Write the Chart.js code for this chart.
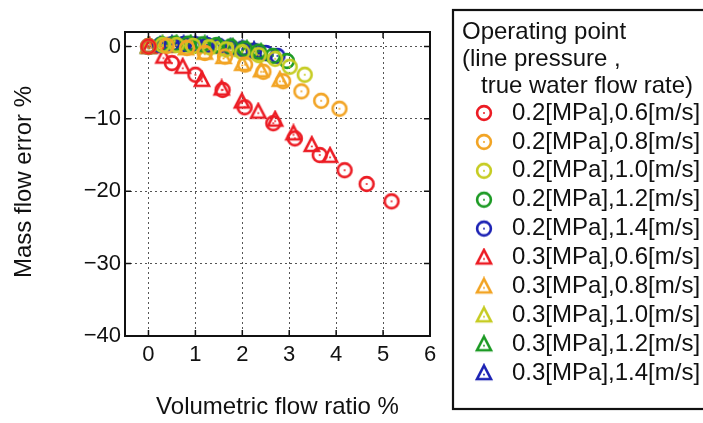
<!DOCTYPE html>
<html>
<head>
<meta charset="utf-8">
<script src="https://cdn.jsdelivr.net/npm/chart.js@4"></script>
<style>
  html, body { margin: 0; padding: 0; background: #fff; }
  #wrap { width: 703px; height: 423px; }
</style>
</head>
<body>
<div id="wrap"><canvas id="chart" width="703" height="423"></canvas></div>
<script>
// volumetric flow ratio % (x) and mass flow error % (y), per operating point
const x02_06 = [0, 0.5, 1.0, 1.58, 2.05, 2.66, 3.12, 3.65, 4.18, 4.65, 5.18];
const y02_06 = [0, -2.3, -3.9, -6.0, -8.4, -10.6, -12.7, -15.0, -17.1, -19.0, -21.4];
const x02_08 = [0, 0.39, 0.82, 1.2, 1.63, 2.06, 2.45, 2.87, 3.26, 3.68, 4.07];
const y02_08 = [0, 0.1, -0.2, -0.9, -1.4, -2.5, -3.5, -4.8, -6.2, -7.5, -8.6];
const x02_10 = [0, 0.3, 0.6, 0.95, 1.3, 1.65, 2.0, 2.35, 2.7, 3.01, 3.33];
const y02_10 = [0, 0.2, 0.2, 0.1, -0.1, -0.4, -0.8, -1.2, -1.7, -2.8, -3.9];
const x02_12 = [0, 0.28, 0.56, 0.85, 1.15, 1.45, 1.75, 2.05, 2.35, 2.65, 2.95];
const y02_12 = [0, 0.3, 0.4, 0.4, 0.3, 0.2, 0.0, -0.3, -0.7, -1.3, -2.0];
const x02_14 = [0, 0.25, 0.5, 0.75, 1.0, 1.25, 1.5, 1.75, 2.0, 2.25, 2.5, 2.75];
const y02_14 = [0, 0.2, 0.3, 0.35, 0.3, 0.2, 0.1, -0.1, -0.3, -0.6, -0.9, -1.3];
const x03_06 = [0.03, 0.32, 0.73, 1.14, 1.56, 1.99, 2.34, 2.70, 3.09, 3.48, 3.87];
const y03_06 = [0, -1.4, -2.8, -4.6, -5.8, -7.6, -9.0, -10.1, -12.0, -13.6, -15.1];
const x03_08 = [0, 0.4, 0.8, 1.2, 1.6, 2.0, 2.4, 2.8];
const y03_08 = [0, 0.05, -0.25, -0.85, -1.45, -2.4, -3.3, -4.6];
const x03_10 = [0, 0.3, 0.6, 0.9, 1.2, 1.45, 1.74, 1.99, 2.2, 2.45];
const y03_10 = [0, 0.2, 0.2, 0.1, 0.0, -0.1, -0.2, -0.45, -0.8, -1.05];
const x03_12 = [0, 0.3, 0.6, 0.9, 1.2, 1.5, 1.8, 2.1, 2.4];
const y03_12 = [0, 0.3, 0.4, 0.4, 0.3, 0.1, -0.1, -0.4, -0.8];
const x03_14 = [0, 0.25, 0.5, 0.75, 1.0, 1.25, 1.5, 1.75, 2.0, 2.25];
const y03_14 = [0, 0.2, 0.3, 0.3, 0.3, 0.2, 0.1, -0.1, -0.3, -0.5];

const labels = [
  '0.2[MPa],0.6[m/s]', '0.2[MPa],0.8[m/s]', '0.2[MPa],1.0[m/s]', '0.2[MPa],1.2[m/s]', '0.2[MPa],1.4[m/s]',
  '0.3[MPa],0.6[m/s]', '0.3[MPa],0.8[m/s]', '0.3[MPa],1.0[m/s]', '0.3[MPa],1.2[m/s]', '0.3[MPa],1.4[m/s]'
];
const xs = [x02_06, x02_08, x02_10, x02_12, x02_14, x03_06, x03_08, x03_10, x03_12, x03_14];
const ys = [y02_06, y02_08, y02_10, y02_12, y02_14, y03_06, y03_08, y03_10, y03_12, y03_14];
const colors = ['#ec1c24', '#f2a424', '#c6cc22', '#1c9a24', '#1c22b4'];
const xTicks = [0, 1, 2, 3, 4, 5, 6];
const yTicks = [0, -10, -20, -30, -40];

const FONT = '"Liberation Sans", Arial, sans-serif';

// marker images: open circle / triangle with a small dot in the middle
function makeMarker(color, shape) {
  const c = document.createElement('canvas');
  c.width = 20; c.height = 20;
  const g = c.getContext('2d');
  g.strokeStyle = color;
  g.fillStyle = color;
  g.lineWidth = 2.6;
  g.beginPath();
  if (shape === 'circle') {
    g.arc(10, 10, 6.9, 0, Math.PI * 2);
  } else {
    g.moveTo(10, 2.5); g.lineTo(17, 16); g.lineTo(3, 16); g.closePath();
  }
  g.stroke();
  g.beginPath();
  g.arc(10, shape === 'circle' ? 10 : 11.5, 1, 0, Math.PI * 2);
  g.fill();
  return c;
}

const markers = labels.map((l, i) => makeMarker(colors[i % 5], i < 5 ? 'circle' : 'triangle'));

const datasets = labels.map((l, i) => ({
  label: l,
  data: xs[i].map((x, j) => ({ x: x, y: ys[i][j] })),
  pointStyle: markers[i],
  showLine: false
}));

// box border, inward ticks, axis titles and the legend box
const decor = {
  id: 'decor',
  afterDraw(chart) {
    const ctx = chart.ctx;
    const a = chart.chartArea;
    const sx = chart.scales.x, sy = chart.scales.y;
    ctx.save();
    ctx.strokeStyle = '#111';
    ctx.lineWidth = 1.5;
    ctx.beginPath();
    xTicks.forEach(t => {
      const px = sx.getPixelForValue(t);
      ctx.moveTo(px, a.bottom); ctx.lineTo(px, a.bottom - 6);
      ctx.moveTo(px, a.top); ctx.lineTo(px, a.top + 6);
    });
    yTicks.forEach(t => {
      const py = sy.getPixelForValue(t);
      ctx.moveTo(a.left, py); ctx.lineTo(a.left + 6, py);
      ctx.moveTo(a.right, py); ctx.lineTo(a.right - 6, py);
    });
    ctx.stroke();
    ctx.lineWidth = 2;
    ctx.strokeRect(a.left, a.top, a.right - a.left, a.bottom - a.top);

    ctx.fillStyle = '#111';
    ctx.font = '24px ' + FONT;
    ctx.textAlign = 'center';
    ctx.textBaseline = 'middle';
    ctx.fillText('Volumetric flow ratio %', (a.left + a.right) / 2, 407);
    ctx.save();
    ctx.translate(24, 182);
    ctx.rotate(-Math.PI / 2);
    ctx.fillText('Mass flow error %', 0, 0);
    ctx.restore();

    // legend
    ctx.lineWidth = 2.2;
    ctx.strokeRect(453, 10, 270, 399);
    ctx.textAlign = 'left';
    ctx.font = '24px ' + FONT;
    ctx.fillText('Operating point', 462, 32);
    ctx.fillText('(line pressure ,', 462, 59);
    ctx.fillText('true water flow rate)', 481, 86);
    labels.forEach((l, i) => {
      const y = 113 + i * 28.9;
      const m = markers[i];
      ctx.drawImage(m, 484 - m.width / 2, y - m.height / 2);
      ctx.fillText(l, 512, y);
    });
    ctx.restore();
  }
};

new Chart(document.getElementById('chart'), {
  type: 'scatter',
  data: { datasets: datasets },
  plugins: [decor],
  options: {
    responsive: false,
    animation: false,
    events: [],
    layout: { padding: { left: 0, top: 32, right: 273, bottom: 0 } },
    plugins: { legend: { display: false }, tooltip: { enabled: false } },
    elements: { point: { radius: 7 } },
    scales: {
      x: {
        type: 'linear', min: -0.5, max: 6,
        afterBuildTicks: s => { s.ticks = xTicks.map(v => ({ value: v })); },
        afterFit: s => { s.height = 87; },
        grid: { color: '#555', lineWidth: 1, drawTicks: false },
        border: { display: false, dash: [2, 3] },
        ticks: { color: '#111', font: { family: FONT, size: 22 }, padding: 6, maxRotation: 0 }
      },
      y: {
        type: 'linear', min: -40, max: 2,
        afterBuildTicks: s => { s.ticks = yTicks.map(v => ({ value: v })); },
        afterFit: s => { s.width = 125; },
        grid: { color: '#555', lineWidth: 1, drawTicks: false },
        border: { display: false, dash: [2, 3] },
        ticks: {
          color: '#111', font: { family: FONT, size: 22 }, padding: 4,
          callback: v => String(v).replace('-', '\u2212')
        }
      }
    }
  }
});
</script>
</body>
</html>
